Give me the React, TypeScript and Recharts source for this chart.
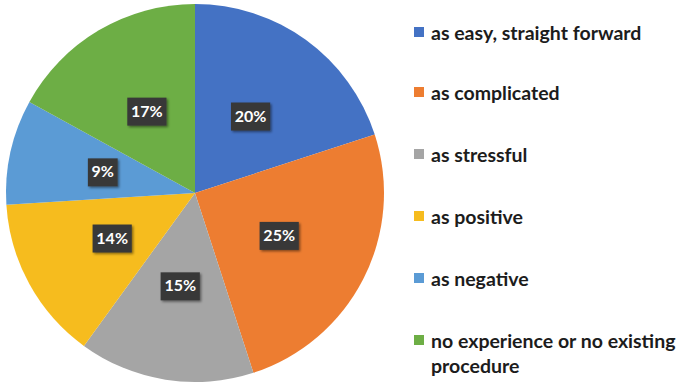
import React from 'react';
import { PieChart, Pie, Cell, Legend } from 'recharts';

const categories = [
  'as easy, straight forward',
  'as complicated',
  'as stressful',
  'as positive',
  'as negative',
  'no experience or no existing procedure',
];
const values = [20, 25, 15, 14, 9, 17];
const colors = ['#4472C4', '#ED7D31', '#A5A5A5', '#F6BC1E', '#5B9BD5', '#6DAE45'];

const data = categories.map((name, i) => ({ name, value: values[i] }));
const RAD = Math.PI / 180;
const FONT = 'Lato, "Open Sans", sans-serif';

const renderLabel = (props: any) => {
  const { cx, cy, midAngle, outerRadius, value } = props;
  const r = outerRadius * 0.5;
  const x = cx + r * Math.cos(-midAngle * RAD);
  const y = cy + r * Math.sin(-midAngle * RAD);
  const text = `${value}%`;
  const w = text.length * 9.4 + 11;
  const h = 28;
  return (
    <g>
      <rect x={x - w / 2} y={y - h / 2} width={w} height={h} fill="#383838" filter="url(#lblShadow)" />
      <text x={x} y={y + 1} fill="#ffffff" fontSize={16} fontWeight={700} fontFamily={FONT} textAnchor="middle" dominantBaseline="middle">
        {text}
      </text>
    </g>
  );
};

const renderLegend = () => {
  const centers = [32, 92, 154, 216, 278, 340];
  return (
    <div style={{ position: 'relative', width: 267, height: 386 }}>
      {categories.map((c, i) => (
        <div key={c} style={{ position: 'absolute', left: 0, top: centers[i] - 12.5, display: 'flex', alignItems: 'flex-start' }}>
          <div style={{ width: 10, height: 10, background: colors[i], marginTop: 7.5, marginRight: 7, flex: 'none' }} />
          <div style={{ fontFamily: FONT, fontWeight: 700, fontSize: 19.5, lineHeight: '25.5px', color: '#1c1c1c', width: 250, whiteSpace: 'normal' }}>
            {c}
          </div>
        </div>
      ))}
    </div>
  );
};

export default function App() {
  return (
    <div style={{ position: 'absolute', left: 0, top: 0, width: 678, height: 386, background: '#fff', overflow: 'hidden' }}>
      <PieChart width={678} height={386} margin={{ top: 0, right: 0, bottom: 0, left: 0 }}>
        <defs>
          <filter id="lblShadow" x="-30%" y="-30%" width="160%" height="160%">
            <feDropShadow dx="1.5" dy="1.5" stdDeviation="1.2" floodColor="#000" floodOpacity="0.45" />
          </filter>
        </defs>
        <Pie
          data={data}
          dataKey="value"
          nameKey="name"
          cx={195}
          cy={193}
          outerRadius={189}
          startAngle={90}
          endAngle={-270}
          stroke="none"
          label={renderLabel}
          labelLine={false}
          isAnimationActive={false}
        >
          {data.map((d, i) => (
            <Cell key={d.name} fill={colors[i]} />
          ))}
        </Pie>
        <Legend
          layout="vertical"
          align="right"
          verticalAlign="top"
          content={renderLegend}
          wrapperStyle={{ position: 'absolute', left: 414, top: 0, width: 267, height: 386 }}
        />
      </PieChart>
    </div>
  );
}
